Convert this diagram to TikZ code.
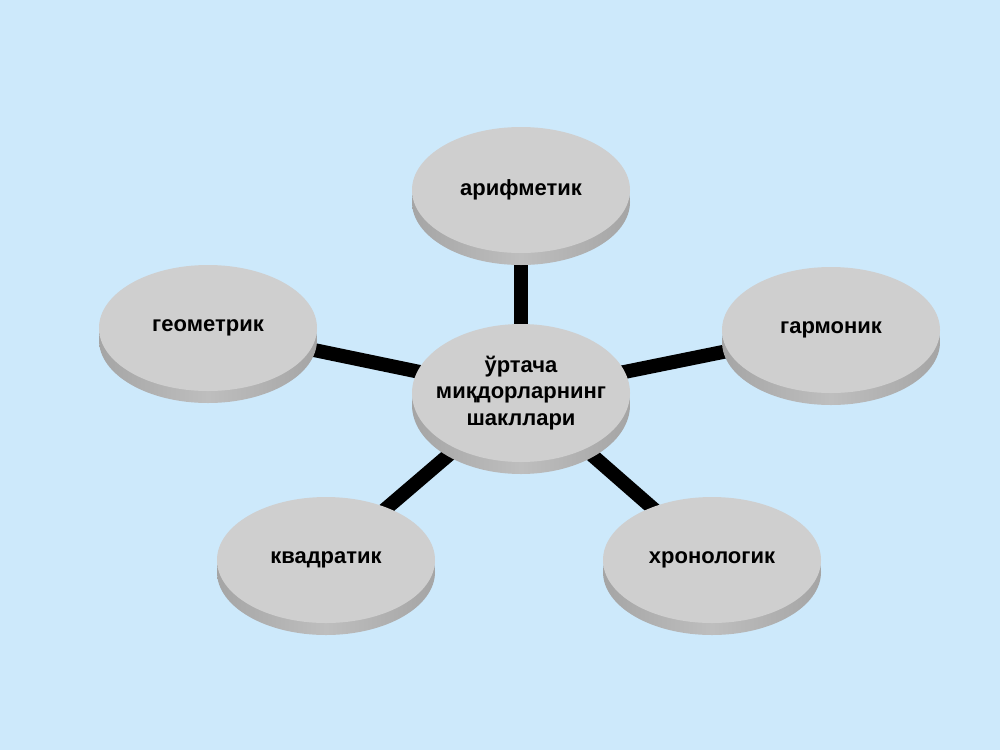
\documentclass[tikz,border=0pt]{standalone}
\usepackage{fontspec}
\setmainfont{Liberation Sans}
\usetikzlibrary{shapes.geometric}
\definecolor{backColor}{RGB}{205,233,251}
\definecolor{diskColor}{RGB}{207,207,207}
\definecolor{edgeColor}{RGB}{165,165,165}
\definecolor{edgeMidColor}{RGB}{190,190,190}
\tikzset{disk/.style={ellipse, fill=diskColor, align=center, inner sep=0pt, minimum width=218pt, minimum height=126pt, font=\bfseries\fontsize{22}{26.5}\selectfont, preaction={left color=edgeColor, right color=edgeColor, middle color=edgeMidColor, transform canvas={yshift=-12pt}}}}
\tikzset{link/.style={line width=14pt, black}}

\begin{document}
\begin{tikzpicture}[x=1pt, y=-1pt]
	% Nodes
	\pgfdeclarelayer{background}
	\pgfsetlayers{background,main}

		\node (forms) [disk, inner xsep=-12pt, minimum height=138pt] at (521,393) {ўртача\\ миқдорларнинг\\ шакллари};

		\node (arith) [disk] at (521,190) {арифметик};
		\node (geom) [disk] at (208,328) {геометрик};
		\node (harm) [disk] at (831,330) {гармоник};
		\node (quad) [disk] at (326,560) {квадратик};
		\node (chron) [disk] at (712,560) {хронологик};

		\begin{pgfonlayer}{background}
		\fill[backColor] (0,0) rectangle (1000,750);

		% Connectors
		\draw [link] (forms.center) -- (arith.center);
		\draw [link] (forms.center) -- (geom.center);
		\draw [link] (forms.center) -- (harm.center);
		\draw [link] (forms.center) -- (quad.center);
		\draw [link] (forms.center) -- (chron.center);
		\end{pgfonlayer}

\end{tikzpicture}
\end{document}
